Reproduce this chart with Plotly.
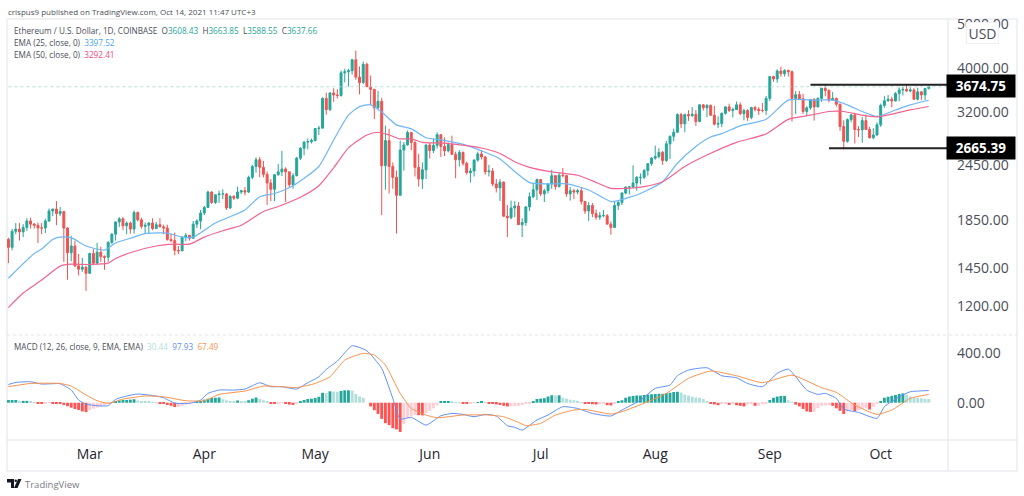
import pandas as pd
import plotly.graph_objects as go

# ETH/USD daily candles, one row per month
opens = [
    1680, 1614, 1750, 1770, 1745, 1785, 1845, 1815, 1805, 1780, 1780, 1845, 1940, 1960, 1915, 1935, 1780, 1570, 1625, 1470, 1445, 1460,
    1415, 1565, 1490, 1575, 1540, 1535, 1655, 1725, 1835, 1865, 1800, 1825, 1770, 1925, 1855, 1795, 1805, 1825, 1775, 1810, 1790, 1780, 1680, 1670, 1590, 1585, 1700, 1715, 1690, 1815, 1845,
    1920, 1975, 2135, 2025, 2105, 2115, 2115, 1970, 2090, 2070, 2135, 2150, 2135, 2300, 2430, 2515, 2420, 2335, 2235, 2165, 2330, 2365, 2400, 2365, 2215, 2320, 2535, 2665, 2750, 2755,
    2770, 2945, 2950, 3430, 3240, 3525, 3490, 3480, 3905, 3925, 3945, 4170, 3820, 3715, 4075, 3640, 3590, 3270, 3380, 2440, 2770, 2430, 2300, 2100, 2640, 2710, 2885, 2745, 2420, 2280, 2390,
    2710, 2635, 2705, 2855, 2690, 2630, 2715, 2585, 2515, 2610, 2470, 2355, 2375, 2510, 2590, 2550, 2365, 2375, 2225, 2180, 2245, 1890, 1875, 1970, 1990, 1810, 1830, 1980, 2085, 2160,
    2275, 2115, 2150, 2225, 2320, 2195, 2325, 2320, 2115, 2150, 2135, 2150, 2035, 1940, 1995, 1915, 1880, 1895, 1895, 1815, 1785, 1995, 2025, 2125, 2190, 2190, 2235, 2300, 2300, 2380, 2465,
    2535, 2555, 2610, 2505, 2725, 2830, 2890, 3160, 3015, 3160, 3140, 3165, 3050, 3320, 3270, 3310, 3150, 3010, 3020, 3180, 3285, 3225, 3240, 3320, 3175, 3225, 3115, 3275, 3245, 3225, 3225,
    3430, 3830, 3785, 3940, 3885, 3950, 3925, 3430, 3495, 3425, 3210, 3270, 3410, 3285, 3430, 3610, 3570, 3400, 3430, 3330, 2975, 2760, 3080, 3155, 2930, 2925, 3065, 2930, 2810, 2850,
    3000, 3310, 3390, 3415, 3385, 3515, 3580, 3590, 3560, 3580, 3415, 3545, 3490, 3608,
]
highs = [
    1695, 1770, 1825, 1825, 1815, 1870, 1875, 1825, 1830, 1825, 1865, 1965, 1960, 2040, 1980, 1940, 1785, 1710, 1670, 1560, 1530, 1470,
    1570, 1600, 1650, 1620, 1550, 1665, 1735, 1840, 1880, 1880, 1840, 1840, 1945, 1935, 1875, 1830, 1835, 1870, 1835, 1870, 1810, 1810, 1725, 1740, 1625, 1705, 1735, 1720, 1845, 1860, 1950,
    1990, 2150, 2145, 2110, 2150, 2165, 2125, 2100, 2100, 2195, 2160, 2190, 2320, 2450, 2545, 2550, 2500, 2370, 2280, 2340, 2460, 2630, 2420, 2365, 2350, 2550, 2680, 2760, 2800, 2800,
    2950, 2985, 3450, 3530, 3540, 3610, 3590, 3950, 3985, 3985, 4190, 4370, 4030, 4130, 4110, 3850, 3600, 3560, 3440, 2990, 2940, 2480, 2380, 2770, 2750, 2915, 2890, 2760, 2590, 2480, 2715,
    2740, 2800, 2890, 2860, 2815, 2745, 2840, 2620, 2640, 2620, 2490, 2410, 2520, 2620, 2630, 2560, 2450, 2410, 2280, 2280, 2255, 2000, 2045, 2040, 2030, 1870, 1990, 2130, 2230, 2285,
    2280, 2170, 2235, 2390, 2325, 2350, 2410, 2330, 2190, 2170, 2170, 2185, 2040, 2030, 2020, 1955, 1930, 1950, 1910, 1840, 2030, 2045, 2130, 2195, 2200, 2445, 2315, 2345, 2400, 2470, 2550,
    2700, 2665, 2630, 2765, 2845, 2945, 3180, 3185, 3175, 3230, 3280, 3235, 3330, 3335, 3330, 3325, 3300, 3130, 3190, 3300, 3340, 3275, 3375, 3360, 3255, 3250, 3285, 3300, 3280, 3350, 3470,
    3840, 3845, 3975, 4025, 3975, 3970, 3950, 3560, 3560, 3510, 3295, 3420, 3435, 3450, 3620, 3680, 3590, 3540, 3445, 3340, 3070, 3100, 3175, 3175, 2980, 3120, 3160, 2970, 2950, 3040,
    3340, 3470, 3490, 3460, 3540, 3625, 3640, 3670, 3630, 3610, 3620, 3555, 3620, 3664,
]
lows = [
    1490, 1590, 1725, 1670, 1700, 1755, 1775, 1775, 1650, 1725, 1735, 1835, 1890, 1805, 1890, 1500, 1370, 1505, 1460, 1400, 1425, 1295,
    1410, 1475, 1480, 1500, 1440, 1500, 1640, 1670, 1790, 1760, 1725, 1730, 1730, 1840, 1775, 1730, 1730, 1760, 1770, 1790, 1725, 1670, 1655, 1550, 1560, 1585, 1665, 1670, 1685, 1780, 1770,
    1900, 1970, 2010, 2010, 2020, 2060, 1950, 1960, 2050, 2060, 2115, 2100, 2125, 2280, 2355, 2300, 2300, 2000, 2040, 2040, 2320, 2315, 2030, 2190, 2170, 2310, 2510, 2570, 2650, 2730,
    2760, 2850, 2950, 3160, 3215, 3370, 3430, 3460, 3720, 3640, 3870, 3770, 3500, 3690, 3630, 3320, 3090, 3250, 1900, 2160, 2120, 2170, 1730, 2100, 2380, 2700, 2640, 2310, 2195, 2170, 2280,
    2530, 2600, 2660, 2550, 2560, 2610, 2580, 2290, 2430, 2440, 2330, 2240, 2310, 2490, 2520, 2330, 2310, 2200, 2130, 2040, 1880, 1700, 1860, 1880, 1810, 1700, 1800, 1940, 2070, 2050,
    2090, 2030, 2120, 2170, 2160, 2185, 2300, 2085, 2045, 2060, 2110, 2005, 1910, 1845, 1880, 1855, 1855, 1880, 1815, 1720, 1780, 1950, 2000, 2110, 2110, 2180, 2150, 2220, 2280, 2320, 2440,
    2515, 2530, 2450, 2485, 2525, 2760, 2880, 2950, 2890, 3060, 3125, 2985, 3040, 3225, 3120, 3140, 2990, 2950, 2965, 3160, 3200, 3115, 3235, 3150, 3070, 3060, 3085, 3210, 3155, 3195, 3155,
    3385, 3730, 3715, 3830, 3830, 3830, 3050, 3170, 3400, 3170, 3150, 3240, 3065, 3280, 3370, 3465, 3360, 3390, 3290, 2910, 2650, 2740, 3040, 2730, 2820, 2740, 2930, 2800, 2790, 2840,
    2970, 3270, 3370, 3280, 3380, 3380, 3480, 3540, 3535, 3400, 3395, 3400, 3400, 3589,
]
closes = [
    1614, 1750, 1770, 1745, 1785, 1845, 1815, 1805, 1780, 1780, 1845, 1940, 1960, 1915, 1935, 1780, 1570, 1625, 1470, 1445, 1460, 1415,
    1565, 1490, 1575, 1540, 1535, 1655, 1725, 1835, 1865, 1800, 1825, 1770, 1925, 1855, 1795, 1805, 1825, 1775, 1810, 1790, 1780, 1680, 1670, 1590, 1585, 1700, 1715, 1690, 1815, 1845, 1920,
    1975, 2135, 2025, 2105, 2115, 2115, 1970, 2090, 2070, 2135, 2150, 2135, 2300, 2430, 2515, 2420, 2335, 2235, 2165, 2330, 2365, 2400, 2365, 2215, 2320, 2535, 2665, 2750, 2755, 2770,
    2945, 2950, 3430, 3240, 3525, 3490, 3480, 3905, 3925, 3945, 4170, 3820, 3715, 4075, 3640, 3590, 3270, 3380, 2440, 2770, 2430, 2300, 2100, 2640, 2710, 2885, 2745, 2420, 2280, 2390, 2710,
    2635, 2705, 2855, 2690, 2630, 2715, 2585, 2515, 2610, 2470, 2355, 2375, 2510, 2590, 2550, 2365, 2375, 2225, 2180, 2245, 1890, 1875, 1970, 1990, 1810, 1830, 1980, 2085, 2160, 2275,
    2115, 2150, 2225, 2320, 2195, 2325, 2320, 2115, 2150, 2135, 2150, 2035, 1940, 1995, 1915, 1880, 1895, 1895, 1815, 1785, 1995, 2025, 2125, 2190, 2190, 2235, 2300, 2300, 2380, 2465, 2535,
    2555, 2610, 2505, 2725, 2830, 2890, 3160, 3015, 3160, 3140, 3165, 3050, 3320, 3270, 3310, 3150, 3010, 3020, 3180, 3285, 3225, 3240, 3320, 3175, 3225, 3115, 3275, 3245, 3225, 3225, 3430,
    3830, 3785, 3940, 3885, 3950, 3925, 3430, 3495, 3425, 3210, 3270, 3410, 3285, 3430, 3610, 3570, 3400, 3430, 3330, 2975, 2760, 3080, 3155, 2930, 2925, 3065, 2930, 2810, 2850, 3000,
    3310, 3390, 3415, 3385, 3515, 3580, 3590, 3560, 3580, 3415, 3545, 3490, 3605, 3638,
]

ema25_dates = ["2021-02-07", "2021-02-14", "2021-02-16", "2021-02-19", "2021-02-21", "2021-02-24", "2021-02-28", "2021-03-05", "2021-03-08", "2021-03-13",
               "2021-03-16", "2021-03-22", "2021-03-26", "2021-03-29", "2021-04-04", "2021-04-12", "2021-04-16", "2021-04-20", "2021-04-25", "2021-05-02",
               "2021-05-06", "2021-05-10", "2021-05-13", "2021-05-16", "2021-05-19", "2021-05-23", "2021-05-27", "2021-05-31", "2021-06-04", "2021-06-11",
               "2021-06-15", "2021-06-20", "2021-06-24", "2021-06-28", "2021-07-03", "2021-07-08", "2021-07-14", "2021-07-20", "2021-07-22", "2021-07-28",
               "2021-08-03", "2021-08-07", "2021-08-12", "2021-08-16", "2021-08-19", "2021-08-24", "2021-08-31", "2021-09-06", "2021-09-13", "2021-09-18",
               "2021-09-22", "2021-09-26", "2021-09-30", "2021-10-05", "2021-10-09", "2021-10-14"]
ema25 = [1380, 1565, 1600, 1680, 1700, 1695, 1625, 1592, 1650, 1700,
         1730, 1735, 1700, 1700, 1825, 1950, 2085, 2120, 2205, 2430,
         2779, 3150, 3290, 3320, 3200, 3000, 2940, 2810, 2780, 2705,
         2630, 2525, 2370, 2240, 2225, 2225, 2158, 2035, 2045, 2120,
         2250, 2470, 2690, 2820, 2870, 2985, 3085, 3400, 3400, 3400,
         3320, 3210, 3130, 3234, 3320, 3398]

ema50_dates = ["2021-02-07", "2021-02-11", "2021-02-16", "2021-02-21", "2021-02-24", "2021-03-01", "2021-03-06", "2021-03-08", "2021-03-13", "2021-03-19",
               "2021-03-24", "2021-03-28", "2021-04-01", "2021-04-06", "2021-04-11", "2021-04-17", "2021-04-21", "2021-04-27", "2021-05-02", "2021-05-06",
               "2021-05-10", "2021-05-15", "2021-05-18", "2021-05-21", "2021-05-24", "2021-05-27", "2021-05-30", "2021-06-05", "2021-06-11", "2021-06-15",
               "2021-06-20", "2021-06-24", "2021-06-28", "2021-07-04", "2021-07-11", "2021-07-15", "2021-07-20", "2021-07-24", "2021-07-29", "2021-08-03",
               "2021-08-09", "2021-08-15", "2021-08-23", "2021-08-31", "2021-09-06", "2021-09-12", "2021-09-17", "2021-09-21", "2021-09-26", "2021-09-30",
               "2021-10-05", "2021-10-09", "2021-10-14"]
ema50 = [1190, 1281, 1368, 1468, 1482, 1480, 1490, 1525, 1580, 1625,
         1640, 1640, 1700, 1755, 1805, 1935, 1985, 2080, 2205, 2412,
         2670, 2850, 2890, 2850, 2795, 2795, 2745, 2735, 2700, 2668,
         2595, 2490, 2420, 2365, 2325, 2260, 2175, 2175, 2195, 2250,
         2430, 2575, 2745, 2865, 3085, 3150, 3210, 3210, 3150, 3125,
         3180, 3235, 3292]

macd_dates = ["2021-02-07", "2021-02-09", "2021-02-13", "2021-02-16", "2021-02-19", "2021-02-21", "2021-02-24", "2021-02-26", "2021-02-28", "2021-03-03",
              "2021-03-06", "2021-03-08", "2021-03-11", "2021-03-14", "2021-03-19", "2021-03-21", "2021-03-24", "2021-03-28", "2021-03-31", "2021-04-02",
              "2021-04-05", "2021-04-09", "2021-04-12", "2021-04-16", "2021-04-19", "2021-04-22", "2021-04-26", "2021-04-29", "2021-05-02", "2021-05-04",
              "2021-05-07", "2021-05-11", "2021-05-15", "2021-05-19", "2021-05-22", "2021-05-24", "2021-05-27", "2021-05-31", "2021-06-04", "2021-06-07",
              "2021-06-10", "2021-06-13", "2021-06-16", "2021-06-19", "2021-06-22", "2021-06-24", "2021-06-26", "2021-06-30", "2021-07-03", "2021-07-07",
              "2021-07-11", "2021-07-15", "2021-07-20", "2021-07-23", "2021-07-28", "2021-08-01", "2021-08-05", "2021-08-07", "2021-08-10", "2021-08-15",
              "2021-08-19", "2021-08-23", "2021-08-26", "2021-08-30", "2021-09-03", "2021-09-06", "2021-09-11", "2021-09-14", "2021-09-16", "2021-09-19",
              "2021-09-21", "2021-09-25", "2021-09-30", "2021-10-02", "2021-10-06", "2021-10-09", "2021-10-14"]
macd = [147, 163, 169, 150, 153, 153, 102, 21, -11, -24,
        -24, 27, 54, 70, 54, 40, -3, -5, 21, 75,
        102, 102, 110, 161, 129, 129, 110, 161, 209, 268,
        335, 458, 418, 276, 35, -131, -118, -180, -105, -86,
        -94, -113, -94, -107, -185, -198, -220, -139, -99, -32,
        -46, -86, -107, -59, 21, 115, 142, 217, 263, 281,
        217, 201, 155, 129, 236, 271, 102, 67, 75, 35,
        -51, -78, -126, -32, 48, 88, 98]

signal_dates = ["2021-02-07", "2021-02-13", "2021-02-21", "2021-02-24", "2021-02-28", "2021-03-03", "2021-03-06", "2021-03-10", "2021-03-16", "2021-03-21",
                "2021-03-27", "2021-04-01", "2021-04-05", "2021-04-12", "2021-04-17", "2021-04-26", "2021-05-01", "2021-05-05", "2021-05-09", "2021-05-14",
                "2021-05-17", "2021-05-20", "2021-05-24", "2021-05-27", "2021-05-31", "2021-06-03", "2021-06-10", "2021-06-17", "2021-06-21", "2021-06-25",
                "2021-06-27", "2021-07-01", "2021-07-05", "2021-07-10", "2021-07-13", "2021-07-20", "2021-07-23", "2021-07-30", "2021-08-04", "2021-08-10",
                "2021-08-16", "2021-08-23", "2021-08-30", "2021-09-07", "2021-09-15", "2021-09-19", "2021-09-24", "2021-09-30", "2021-10-04", "2021-10-09",
                "2021-10-14"]
signal = [129, 155, 155, 134, 62, 16, -5, 29, 54, 48,
          16, 16, 67, 94, 134, 123, 155, 209, 343, 397,
          383, 303, 75, -46, -99, -121, -99, -99, -113, -158,
          -185, -166, -99, -59, -54, -91, -72, 8, 75, 196,
          255, 217, 161, 222, 121, 83, -19, -94, -59, 35,
          67]

macd_hist = [
    22, 22, 22, 15, 15, 15, 8, 5, -8, -10,
    -8, -2, -3, -6, -10, -18, -28, -40, -50, -58,
    -70, -75, -58, -48, -40, -30, -20, -10, 4, 10,
    18, 22, 22, 25, 28, 18, 14, 10, 7, 4,
    2, -5, -10, -18, -25, -35, -35, -25, -15, -8,
    -2, 8, 15, 25, 32, 38, 40, 42, 28, 20,
    15, 12, 18, 14, 12, 20, 32, 42, 30, 20,
    10, -5, -8, -5, -2, -10, -15, -18, -5, 12,
    22, 30, 32, 38, 48, 80, 78, 92, 90, 88,
    95, 100, 100, 98, 70, 50, 40, 0, -30, -60,
    -90, -130, -165, -180, -205, -215, -235, -170, -125, -110,
    -98, -100, -102, -85, -65, -45, -20, 8, 10, 13,
    8, 5, 4, -4, -8, -5, -2, 5, 7, 1,
    -6, -10, -14, -18, -25, -30, -28, -28, -25, -18,
    -10, -3, 13, 30, 33, 36, 50, 60, 58, 60,
    40, 33, 25, 20, 15, 3, -8, -10, -12, -14,
    -12, -8, -20, -22, -3, 8, 20, 40, 50, 55,
    58, 58, 62, 65, 68, 70, 72, 72, 76, 80,
    86, 88, 82, 65, 58, 48, 42, 40, 30, 14,
    -3, -14, -20, -10, -8, -18, -8, -20, -25, -30,
    -15, -12, -25, -25, -12, -3, 22, 40, 50, 54,
    55, 20, 3, -15, -30, -50, -70, -75, -75, -45,
    -25, -22, -20, -25, -45, -65, -91, -70, -60, -68,
    -60, -52, -45, -55, -35, -12, 8, 40, 48, 55,
    62, 70, 75, 65, 50, 42, 40, 36, 32, 30.44,
]

month_ticks = ["2021-03-01", "2021-04-01", "2021-05-01", "2021-06-01", "2021-07-01", "2021-08-01", "2021-09-01", "2021-10-01"]
month_labels = ["Mar", "Apr", "May", "Jun", "Jul", "Aug", "Sep", "Oct"]
price_ticks = [1200, 1450, 1850, 2450, 3200, 4000, 5000]
price_labels = ["1200.00", "1450.00", "1850.00", "2450.00", "3200.00", "4000.00", "5000.00"]
last_close = 3637.66
resistance = 3674.75
support = 2665.39

W, H = 1024, 496
FONT = "Open Sans"
TEXT = "#4a4e59"
GRID = "#e0e3eb"


def px(x):
    return x / W


def py(y):
    return 1 - y / H


dates = pd.date_range("2021-02-07", periods=len(closes))
hist_dates = pd.date_range("2021-02-07", periods=len(macd_hist))

# same colouring rule as the TradingView histogram
hist_colors = []
prev = macd_hist[0]
for v in macd_hist:
    if v >= 0:
        hist_colors.append("#26a69a" if v >= prev else "#b2dfdb")
    else:
        hist_colors.append("#ffcdd2" if v >= prev else "#ff5252")
    prev = v

fig = go.Figure()

fig.add_trace(go.Scatter(x=[dates[0], "2021-10-19"], y=[last_close, last_close], mode="lines",
                         line=dict(color="#b5e0da", width=1, dash="dot"), xaxis="x", yaxis="y"))
fig.add_trace(go.Candlestick(x=dates, open=opens, high=highs, low=lows, close=closes,
                             increasing=dict(line=dict(color="#26a69a", width=1), fillcolor="#26a69a"),
                             decreasing=dict(line=dict(color="#ef5350", width=1), fillcolor="#ef5350"),
                             whiskerwidth=0, xaxis="x", yaxis="y"))
fig.add_trace(go.Scatter(x=ema25_dates, y=ema25, mode="lines", line=dict(color="#6db6f7", width=1.2, shape="spline", smoothing=0.6), xaxis="x", yaxis="y"))
fig.add_trace(go.Scatter(x=ema50_dates, y=ema50, mode="lines", line=dict(color="#f2648f", width=1.2, shape="spline", smoothing=0.6), xaxis="x", yaxis="y"))

# hand-drawn support / resistance lines
fig.add_trace(go.Scatter(x=["2021-09-12", "2021-10-20"], y=[resistance, resistance], mode="lines",
                         line=dict(color="#222222", width=2), xaxis="x", yaxis="y"))
fig.add_trace(go.Scatter(x=["2021-09-17", "2021-10-20"], y=[support, support], mode="lines",
                         line=dict(color="#222222", width=2), xaxis="x", yaxis="y"))

fig.add_trace(go.Bar(x=hist_dates, y=macd_hist, marker=dict(color=hist_colors, line_width=0),
                     width=86400000 * 0.78, xaxis="x2", yaxis="y2"))
fig.add_trace(go.Scatter(x=macd_dates, y=macd, mode="lines", line=dict(color="#5f8ff5", width=1, shape="spline", smoothing=0.5), xaxis="x2", yaxis="y2"))
fig.add_trace(go.Scatter(x=signal_dates, y=signal, mode="lines", line=dict(color="#f9934e", width=1, shape="spline", smoothing=0.5), xaxis="x2", yaxis="y2"))

x_range = ["2021-02-06 15:00", "2021-10-19 05:00"]
fig.update_layout(
    width=W, height=H,
    margin=dict(l=0, r=0, t=0, b=0),
    paper_bgcolor="white", plot_bgcolor="white",
    showlegend=False,
    boxgap=0.25,
    font=dict(family=FONT, color=TEXT),
    xaxis=dict(domain=[px(7), px(948)], range=x_range, rangeslider=dict(visible=False), automargin=False,
               showticklabels=False, showgrid=False, zeroline=False, ticks="", anchor="y"),
    yaxis=dict(domain=[py(335), py(19)], type="log", range=[3.01525, 3.70975], side="right", anchor="x", automargin=False,
               tickvals=price_ticks, ticktext=price_labels, showgrid=False, zeroline=False,
               ticks="", ticklabelstandoff=8, tickfont=dict(size=14, color=TEXT, family=FONT)),
    xaxis2=dict(domain=[px(7), px(948)], range=x_range, anchor="y2", automargin=False,
                tickvals=month_ticks, ticktext=month_labels, showgrid=False, zeroline=False,
                ticks="", ticklabelstandoff=4, tickfont=dict(size=14, color="#1f2430", family=FONT)),
    yaxis2=dict(domain=[py(440), py(335)], range=[-300, 545], side="right", anchor="x2", automargin=False,
                tickvals=[0, 400], ticktext=["0.00", "400.00"], showgrid=False, zeroline=False,
                ticks="", ticklabelstandoff=8, tickfont=dict(size=14, color=TEXT, family=FONT)),
)

# pane borders
borders = [
    (7, 19, 1017, 19, "solid"), (7, 19, 7, 471, "solid"), (1017, 19, 1017, 471, "solid"), (7, 471, 1017, 471, "solid"),
    (948, 19, 948, 471, "solid"), (7, 440, 1017, 440, "solid"), (7, 335, 1017, 335, "dot"),
]
for x0, y0, x1, y1, dash in borders:
    fig.add_shape(type="line", xref="paper", yref="paper", x0=px(x0), x1=px(x1), y0=py(y0), y1=py(y1),
                  line=dict(color=GRID, width=1, dash=dash), layer="below")

# TradingView logo mark
fig.add_shape(type="path", xref="paper", yref="paper", fillcolor="#131722", line_width=0,
              path=f"M {px(7)} {py(479)} L {px(14)} {py(479)} L {px(14)} {py(488)} L {px(11)} {py(488)} L {px(11)} {py(482.5)} L {px(7)} {py(482.5)} Z")
fig.add_shape(type="circle", xref="paper", yref="paper", fillcolor="#131722", line_width=0,
              x0=px(14.5), x1=px(17), y0=py(482), y1=py(479.5))
fig.add_shape(type="path", xref="paper", yref="paper", fillcolor="#131722", line_width=0,
              path=f"M {px(18)} {py(479)} L {px(21.5)} {py(479)} L {px(17.5)} {py(488)} L {px(14)} {py(488)} Z")


def text(x, y, s, size, color=TEXT, anchor="left"):
    fig.add_annotation(xref="paper", yref="paper", x=px(x), y=py(y), text=s, showarrow=False,
                       xanchor=anchor, yanchor="middle", font=dict(size=size, color=color, family=FONT),
                       borderpad=0, align="left")


UP = "#26a69a"
text(7, 11, "crispus9 published on TradingView.com, Oct 14, 2021 11:47 UTC+3", 8)
text(13, 30,
     "Ethereum / U.S. Dollar, 1D, COINBASE&nbsp;&nbsp;"
     f"O<span style='color:{UP}'>3608.43</span>&nbsp;&nbsp;H<span style='color:{UP}'>3663.85</span>&nbsp;&nbsp;"
     f"L<span style='color:{UP}'>3588.55</span>&nbsp;&nbsp;C<span style='color:{UP}'>3637.66</span>", 8.2)
text(13, 42, "EMA (25, close, 0)&nbsp;&nbsp;<span style='color:#4da3f5'>3397.52</span>", 8.2)
text(13, 54, "EMA (50, close, 0)&nbsp;&nbsp;<span style='color:#f2487f'>3292.41</span>", 8.2)
text(13, 346,
     "MACD (12, 26, close, 9, EMA, EMA)&nbsp;&nbsp;<span style='color:#b2dfdb'>30.44</span>&nbsp;&nbsp;"
     "<span style='color:#5f8ff5'>97.93</span>&nbsp;&nbsp;<span style='color:#f9934e'>67.49</span>", 8.2)
text(24, 484, "TradingView", 9.5, "#787b86")

# USD badge sits on top of the 5000 tick label
fig.add_annotation(xref="paper", yref="paper", x=px(982.5), y=py(33), text="USD", showarrow=False,
                   xanchor="center", yanchor="middle", width=29, height=18, bgcolor="white",
                   bordercolor="#eeeff3", borderwidth=1, font=dict(size=14, color=TEXT, family=FONT))

# price labels for the hand-drawn lines
for value, y in [(resistance, 86), (support, 148.5)]:
    fig.add_annotation(xref="paper", yref="paper", x=px(981), y=py(y), text=f"<b>{value:.2f}</b>", showarrow=False,
                       xanchor="center", yanchor="middle", width=66, height=20, bgcolor="black",
                       font=dict(size=13.5, color="white", family=FONT))

fig.write_html("out.html", config=dict(displayModeBar=False), post_script="document.body.style.margin='0';")
